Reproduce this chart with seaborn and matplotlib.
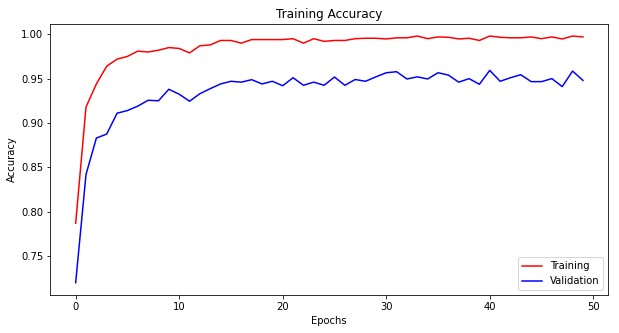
import matplotlib
matplotlib.use("Agg")
import matplotlib.pyplot as plt
import seaborn as sns
import numpy as np
import pandas as pd

epochs = list(range(50))
training = [0.787, 0.918, 0.944, 0.964, 0.972, 0.975, 0.981, 0.980, 0.982, 0.985,
            0.984, 0.979, 0.987, 0.988, 0.993, 0.993, 0.990, 0.994, 0.994, 0.994,
            0.994, 0.995, 0.990, 0.995, 0.992, 0.993, 0.993, 0.995, 0.9955, 0.9955,
            0.9947, 0.996, 0.996, 0.998, 0.995, 0.997, 0.9966, 0.9947, 0.9955, 0.993,
            0.998, 0.9966, 0.996, 0.996, 0.997, 0.995, 0.997, 0.9947, 0.998, 0.997]
validation = [0.720, 0.842, 0.883, 0.8875, 0.911, 0.914, 0.919, 0.9256, 0.925, 0.938,
              0.9324, 0.9245, 0.933, 0.9387, 0.944, 0.947, 0.946, 0.9488, 0.944, 0.947,
              0.942, 0.951, 0.9425, 0.946, 0.9425, 0.9518, 0.9425, 0.949, 0.947, 0.952,
              0.9566, 0.9578, 0.9496, 0.952, 0.9496, 0.9566, 0.954, 0.946, 0.950, 0.9436,
              0.9593, 0.947, 0.951, 0.9544, 0.9466, 0.9466, 0.950, 0.941, 0.9585, 0.948]

W, H, DPI = 619, 333, 72
fig = plt.figure(figsize=(W / DPI, H / DPI), dpi=DPI)
ax = fig.add_axes([50.3 / W, 1 - 295 / H, (608.3 - 50.3) / W, (295 - 23.7) / H])

sns.lineplot(x=epochs, y=training, color="red", label="Training", ax=ax, linewidth=1.5)
sns.lineplot(x=epochs, y=validation, color="blue", label="Validation", ax=ax, linewidth=1.5)

ax.set_title("Training Accuracy", fontsize=12)
ax.set_xlabel("Epochs")
ax.set_ylabel("Accuracy")
ax.set_xticks([0, 10, 20, 30, 40, 50])
ax.set_yticks([0.75, 0.80, 0.85, 0.90, 0.95, 1.00])
ax.set_yticklabels(["0.75", "0.80", "0.85", "0.90", "0.95", "1.00"])
ax.legend(loc="lower right")

fig.savefig("out.png", dpi=DPI)
